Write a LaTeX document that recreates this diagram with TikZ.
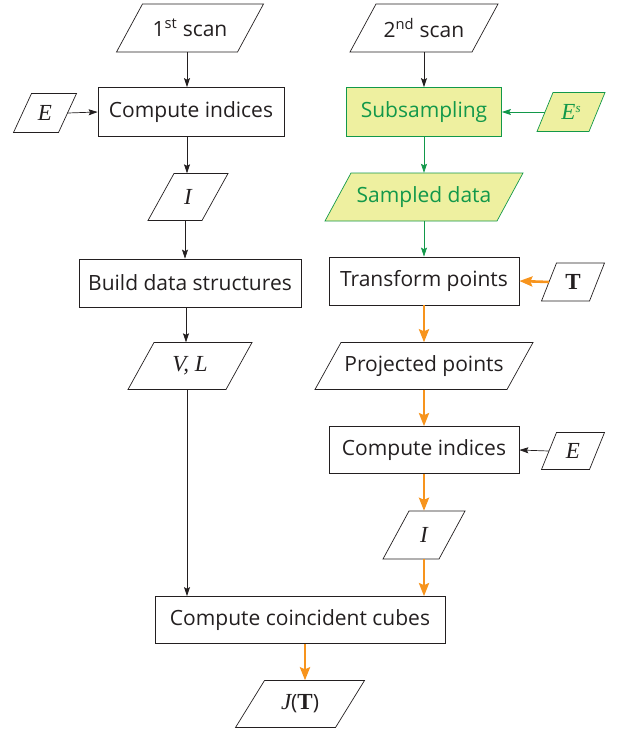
\documentclass[tikz,border=0pt]{standalone}
\usepackage{fontspec}
\setmainfont{Open Sans}
\newfontfamily\mathserif{Liberation Serif}
\usetikzlibrary{arrows.meta}
\definecolor{txt}{HTML}{231F20}
\definecolor{grn}{HTML}{12984A}
\definecolor{yel}{HTML}{EEF0A0}
\definecolor{org}{HTML}{F7941D}
\newcommand{\vi}[1]{{\mathserif\fontsize{23}{25}\selectfont\itshape #1}}
\newcommand{\vb}[1]{{\mathserif\fontsize{23}{25}\selectfont\bfseries #1}}
\newcommand{\supit}[1]{\raisebox{7pt}{\mathserif\fontsize{13}{14}\selectfont\itshape #1}}
\tikzset{
  box/.style={draw=txt, line width=0.7pt, text=txt, font=\fontsize{21}{24}\selectfont, inner sep=0pt},
  pshape/.style={draw=txt, line width=0.7pt},
  ptext/.style={text=txt, font=\fontsize{21}{24}\selectfont, inner sep=0pt},
  greenish/.style={draw=grn, fill=yel, text=grn},
  blk/.style={draw=txt, line width=0.7pt, -{Stealth[length=9pt,width=6pt,inset=1.5pt]}},
  gline/.style={draw=grn, line width=0.7pt, -{Stealth[length=9pt,width=6pt,inset=1.5pt]}},
  oline/.style={draw=org, line width=2.6pt, -{Stealth[length=13pt,width=10pt,inset=2pt]}},
}
% \para[colours]{name}{centre}{full width}{height}{slant}{text}
\newcommand{\para}[7][]{%
  \draw[pshape,#1,shift={(#3)}] (-#4/2,-#5/2) -- ++(#4-#6,0) -- ++(#6,#5) -- ++(-#4+#6,0) -- cycle;
  \node[ptext,#1,draw=none,fill=none,minimum width={(#4-#6)*1pt},minimum height=#5pt] (#2) at (#3) {#7};
}
\begin{document}
\begin{tikzpicture}[x=1pt,y=1pt]
\useasboundingbox (0,0) rectangle (625,-731);
% left column
\para{scan1}{190,-28}{147}{48}{26}{1\textsuperscript{st} scan}
\node[box, minimum width=186pt, minimum height=49pt] (ci1) at (191,-112) {Compute indices};
\para{E1}{45,-113}{63}{39}{18}{\vi{E}}
\para{I1}{188,-197}{80}{47}{26}{\vi{I}}
\node[box, minimum width=222pt, minimum height=48pt] (bds) at (190,-283) {Build data structures};
\para{VL}{190,-366}{124}{47}{26}{\vi{V, L}}
% right column
\para{scan2}{424,-28}{148}{48}{26}{2\textsuperscript{nd} scan}
\node[box, greenish, minimum width=155pt, minimum height=49pt] (sub) at (424,-112) {Subsampling};
\para[greenish]{Es}{571,-112}{68}{39}{16}{\vi{E}\supit{s}}
\para[greenish]{sd}{424,-197}{198}{48}{26}{Sampled data}
\node[box, minimum width=190pt, minimum height=48pt] (tp) at (424,-281) {Transform points};
\para{T}{573,-282}{63}{38}{15}{\vb{T}}
\para{pp}{424,-366}{218}{47}{26}{Projected points}
\node[box, minimum width=190pt, minimum height=47pt] (ci2) at (424,-450) {Compute indices};
\para{E2}{573,-451}{63}{37}{15}{\vi{E}}
\para{I2}{424,-535}{82}{48}{26}{\vi{I}}
% bottom
\node[box, minimum width=290pt, minimum height=47pt] (ccc) at (300,-620) {Compute coincident cubes};
\para{J}{300,-704}{129}{47}{29}{\vi{J}(\vb{T})}
% connectors
\draw[blk] (scan1.south) ++(-3,0) coordinate (a1) -- (a1 |- ci1.north);
\draw[blk] (E1.east) -- (ci1.west);
\draw[blk] (ci1.south) ++(-4,0) coordinate (a2) -- (a2 |- I1.north);
\draw[blk] (I1.south) ++(-3,0) coordinate (a3) -- (a3 |- bds.north);
\draw[blk] (bds.south) ++(-4,0) coordinate (a4) -- (a4 |- VL.north);
\draw[blk] (VL.south) ++(-3,0) coordinate (a5) -- (a5 |- ccc.north);
\draw[blk] (scan2.south) -- (sub.north);
\draw[gline] (Es.west) -- (sub.east);
\draw[gline] (sub.south) -- (sd.north);
\draw[gline] (sd.south) -- (tp.north);
\draw[oline] (T.west) -- (tp.east);
\draw[oline] (tp.south) -- (pp.north);
\draw[oline] (pp.south) -- (ci2.north);
\draw[blk] (E2.west) -- (ci2.east);
\draw[oline] (ci2.south) -- (I2.north);
\draw[oline] (I2.south) -- (I2.south |- ccc.north);
\draw[oline] (ccc.south) ++(5,0) coordinate (a6) -- (a6 |- J.north);
\end{tikzpicture}
\end{document}
